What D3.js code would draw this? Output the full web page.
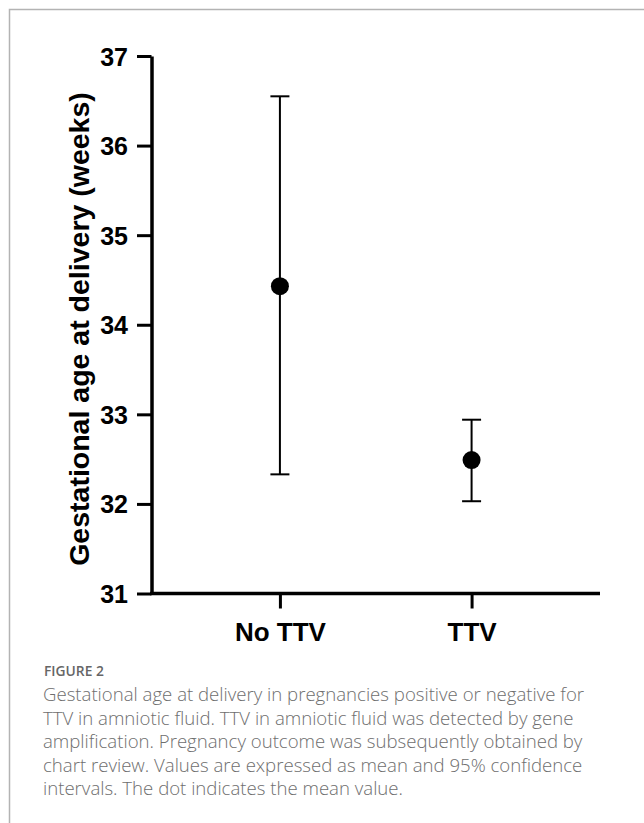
<!DOCTYPE html>
<html>
<head>
<meta charset="utf-8">
<script src="https://cdn.jsdelivr.net/npm/d3@7.9.0/dist/d3.min.js"></script>
<style>
  body { margin: 0; background: #fff; }
  svg { display: block; }
</style>
</head>
<body>
<svg id="chart" width="644" height="823"></svg>
<script>
// data (weeks)
const groups = ['No TTV', 'TTV'];
const means = [34.43, 32.49];
const lower95 = [32.33, 32.03];
const upper95 = [36.55, 32.94];
const yTicks = [31, 32, 33, 34, 35, 36, 37];

const captionTitle = 'FIGURE 2';
const captionLines = [
  'Gestational age at delivery in pregnancies positive or negative for',
  'TTV in amniotic fluid. TTV in amniotic fluid was detected by gene',
  'amplification. Pregnancy outcome was subsequently obtained by',
  'chart review. Values are expressed as mean and 95% confidence',
  'intervals. The dot indicates the mean value.'
];

const svg = d3.select('#chart');
const margin = { left: 151.5, right: 600, top: 56, bottom: 593.5 };

// panel frame (grey rule top and left)
svg.append('path')
  .attr('d', 'M9.5,823V9.5H644')
  .attr('fill', 'none')
  .attr('stroke', '#b3b3b3')
  .attr('stroke-width', 1.5);

const y = d3.scaleLinear().domain([31, 37]).range([margin.bottom, margin.top]);
const x = d3.scalePoint().domain(groups).range([margin.left, margin.right]).padding(0.67);

// y axis
const yAxis = svg.append('g')
  .attr('transform', `translate(${margin.left},0)`)
  .call(d3.axisLeft(y).tickValues(yTicks).tickFormat(d3.format('d')).tickSize(14.5).tickPadding(9).tickSizeOuter(0));

// x axis
const xAxis = svg.append('g')
  .attr('transform', `translate(0,${margin.bottom})`)
  .call(d3.axisBottom(x).tickSize(15).tickPadding(14).tickSizeOuter(0));

[yAxis, xAxis].forEach(g => {
  g.select('.domain').attr('stroke', '#000').attr('stroke-width', 3.5);
  g.selectAll('.tick line').attr('stroke', '#000').attr('stroke-width', 3);
  g.selectAll('.tick text')
    .attr('fill', '#000')
    .attr('font-family', '"Liberation Sans", Arial, sans-serif')
    .attr('font-weight', 'bold');
});
yAxis.selectAll('.tick text').attr('font-size', 25).attr('dy', '0.36em');
xAxis.selectAll('.tick text').attr('font-size', 26);
// extend x domain to meet the y axis
xAxis.select('.domain').attr('d', `M${margin.left - 1.5},0H${margin.right}`);

// y axis title
svg.append('text')
  .attr('transform', `translate(89,329) rotate(-90)`)
  .attr('text-anchor', 'middle')
  .attr('font-family', '"Liberation Sans", Arial, sans-serif')
  .attr('font-weight', 'bold')
  .attr('font-size', 28.5)
  .text('Gestational age at delivery (weeks)');

// error bars and mean dots
const capHalf = 9.5;
const bars = svg.append('g');
groups.forEach((g, i) => {
  const cx = x(g);
  bars.append('line')
    .attr('x1', cx).attr('x2', cx)
    .attr('y1', y(upper95[i])).attr('y2', y(lower95[i]))
    .attr('stroke', '#000').attr('stroke-width', 2);
  [upper95[i], lower95[i]].forEach(v => {
    bars.append('line')
      .attr('x1', cx - capHalf).attr('x2', cx + capHalf)
      .attr('y1', y(v)).attr('y2', y(v))
      .attr('stroke', '#000').attr('stroke-width', 2);
  });
  bars.append('circle')
    .attr('cx', cx).attr('cy', y(means[i]))
    .attr('r', 9)
    .attr('fill', '#000');
});

// caption
svg.append('text')
  .attr('x', 44).attr('y', 676)
  .attr('font-family', '"Open Sans", "Noto Sans", sans-serif')
  .attr('font-weight', 600)
  .attr('font-size', 13.8)
  .attr('fill', '#666')
  .text(captionTitle);

svg.append('g')
  .selectAll('text')
  .data(captionLines)
  .join('text')
  .attr('x', 43)
  .attr('y', (d, i) => 701 + i * 23.6)
  .attr('font-family', '"Open Sans", "Noto Sans", sans-serif')
  .attr('font-weight', 300)
  .attr('font-size', 18.6)
  .attr('fill', '#6e6e6e')
  .text(d => d);
</script>
</body>
</html>
